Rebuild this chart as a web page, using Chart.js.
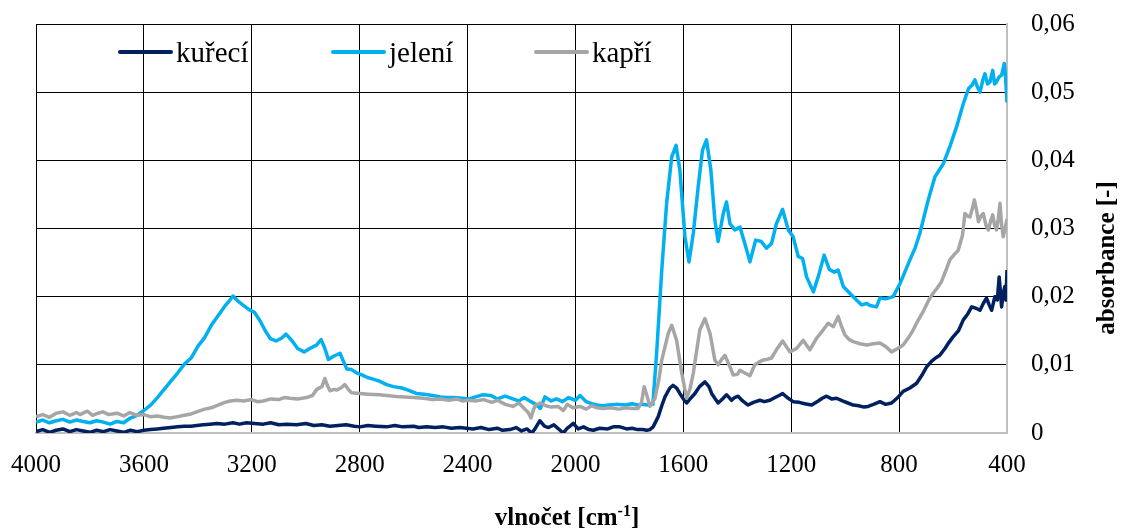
<!DOCTYPE html>
<html><head><meta charset="utf-8">
<script src="https://cdn.jsdelivr.net/npm/chart.js@4.4.1/dist/chart.umd.min.js"></script>
<style>html,body{margin:0;padding:0;background:#fff;}canvas{display:block;}</style>
</head><body>
<canvas id="c" width="1123" height="530"></canvas>
<script>
// ---- data ----
const xTickValues = [4000,3600,3200,2800,2400,2000,1600,1200,800,400];
const yTickValues = [0,0.01,0.02,0.03,0.04,0.05,0.06];
const seriesNames = ['kuřecí','jelení','kapří'];
const seriesColors = ['#002060','#00B0F0','#A6A6A6'];
const xTitle = 'vlnočet [cm';
const xTitleSup = '-1';
const xTitleEnd = ']';
const yTitle = 'absorbance [-]';

const wnKureci = [4000,3975,3950,3925,3900,3875,3850,3825,3800,3775,3750,3725,3700,3675,3650,3625,3600,3575,3550,3528,3500,3475,3450,3425,3404,3380,3355,3330,3300,3270,3245,3219,3190,3157,3130,3100,3070,3034,3000,2970,2940,2910,2880,2850,2820,2799,2770,2740,2700,2670,2640,2600,2580,2552,2520,2490,2460,2430,2404,2380,2350,2320,2290,2270,2243,2220,2200,2180,2162,2150,2132,2115,2100,2080,2057,2045,2030,2020,2008,1990,1970,1950,1934,1910,1880,1860,1835,1810,1790,1770,1750,1736,1724,1712,1693,1680,1668,1650,1638,1625,1613,1600,1588,1575,1557,1540,1520,1505,1495,1480,1471,1455,1440,1430,1421,1410,1397,1380,1360,1340,1316,1300,1279,1260,1245,1232,1215,1193,1170,1150,1124,1100,1085,1069,1050,1032,1010,990,970,950,930,915,895,871,850,828,805,785,760,735,715,698,680,665,649,630,615,600,580,562,545,531,515,500,488,476,466,457,445,436,429,420,414,408,404,400];
const absKureci = [.0002,.0005,.0001,.0004,.0006,.0002,.0005,.0003,.0001,.0004,.0002,.0005,.0003,.0001,.0004,.0002,.0004,.0005,.0006,.0007,.0008,.0009,.0010,.0010,.0011,.0012,.0013,.0014,.0013,.0015,.0013,.0015,.0014,.0013,.0015,.0012,.0013,.0012,.0014,.0011,.0012,.0010,.0011,.0012,.0010,.0009,.0011,.0010,.0009,.0011,.0009,.0010,.0008,.0009,.0008,.0009,.0007,.0008,.0007,.0006,.0008,.0005,.0007,.0004,.0005,.0008,.0003,.0006,.0000,.0006,.0018,.0010,.0008,.0012,.0004,.0000,.0007,.0010,.0014,.0006,.0009,.0005,.0004,.0007,.0006,.0009,.0009,.0006,.0007,.0005,.0005,.0004,.0005,.0009,.0024,.0040,.0053,.0066,.0070,.0066,.0058,.0050,.0044,.0050,.0058,.0068,.0075,.0068,.0058,.0049,.0044,.0050,.0056,.0052,.0048,.0052,.0054,.0047,.0041,.0045,.0048,.0046,.0048,.0052,.0055,.0058,.0052,.0046,.0045,.0043,.0041,.0047,.0051,.0054,.0050,.0051,.0047,.0044,.0041,.0040,.0038,.0039,.0042,.0046,.0042,.0044,.0052,.0061,.0066,.0073,.0085,.0097,.0105,.0110,.0114,.0124,.0133,.0141,.0150,.0166,.0175,.0185,.0183,.0180,.0190,.0198,.0188,.0180,.0200,.0195,.0229,.0185,.0205,.0215,.0195,.0239];

const wnJeleni = [4000,3975,3950,3925,3900,3875,3850,3825,3800,3775,3750,3725,3700,3675,3650,3625,3600,3575,3550,3525,3500,3475,3450,3425,3400,3375,3350,3325,3300,3285,3270,3250,3230,3210,3190,3170,3150,3130,3110,3090,3073,3050,3030,3006,2985,2960,2943,2930,2916,2895,2873,2860,2848,2830,2810,2790,2769,2750,2727,2700,2675,2644,2620,2590,2562,2530,2500,2480,2450,2420,2395,2370,2345,2313,2290,2260,2232,2210,2190,2165,2147,2130,2113,2090,2070,2048,2025,2000,1983,1960,1940,1920,1899,1875,1850,1816,1790,1770,1750,1730,1713,1699,1680,1662,1643,1627,1613,1594,1579,1563,1545,1529,1514,1498,1483,1471,1452,1440,1427,1409,1390,1372,1353,1332,1311,1292,1273,1255,1232,1211,1193,1174,1158,1143,1118,1100,1078,1059,1040,1026,1007,983,958,939,920,908,884,871,850,822,797,780,760,740,723,692,667,636,612,587,562,543,530,519,510,500,490,482,472,463,453,446,439,430,420,410,405,400];
const absJeleni = [.0016,.0019,.0015,.0018,.0020,.0016,.0019,.0017,.0015,.0018,.0016,.0013,.0017,.0015,.0022,.0026,.0033,.0041,.0052,.0064,.0076,.0088,.0101,.0110,.0127,.0140,.0158,.0172,.0186,.0193,.0201,.0193,.0187,.0181,.0177,.0165,.0150,.0138,.0135,.0139,.0145,.0135,.0124,.0119,.0124,.0129,.0137,.0125,.0108,.0113,.0117,.0105,.0094,.0093,.0088,.0085,.0081,.0079,.0076,.0071,.0068,.0066,.0063,.0058,.0057,.0055,.0053,.0052,.0052,.0051,.0050,.0053,.0056,.0055,.0050,.0054,.0050,.0047,.0052,.0046,.0042,.0036,.0053,.0047,.0050,.0046,.0052,.0048,.0055,.0046,.0043,.0041,.0040,.0041,.0042,.0041,.0043,.0041,.0042,.0041,.0042,.0117,.0239,.0337,.0405,.0422,.0386,.0288,.0251,.0293,.0361,.0415,.0430,.0386,.0312,.0281,.0322,.0339,.0307,.0298,.0302,.0278,.0251,.0283,.0281,.0271,.0278,.0307,.0328,.0298,.0288,.0259,.0256,.0229,.0207,.0229,.0261,.0240,.0236,.0239,.0215,.0205,.0195,.0188,.0190,.0187,.0185,.0198,.0197,.0200,.0219,.0235,.0254,.0272,.0293,.0342,.0376,.0395,.0420,.0449,.0483,.0505,.0510,.0518,.0508,.0500,.0517,.0527,.0512,.0515,.0532,.0512,.0515,.0522,.0525,.0542,.0520,.0485];

const wnKapri = [4000,3975,3950,3925,3900,3875,3850,3837,3810,3790,3770,3752,3730,3700,3675,3652,3625,3600,3577,3550,3525,3503,3475,3450,3425,3404,3375,3350,3330,3300,3280,3256,3230,3200,3180,3157,3130,3100,3080,3058,3030,2997,2975,2959,2940,2929,2920,2910,2895,2885,2870,2855,2840,2830,2800,2768,2727,2700,2650,2600,2562,2530,2500,2470,2440,2420,2395,2370,2340,2310,2290,2260,2232,2210,2190,2175,2165,2155,2147,2130,2110,2090,2065,2045,2030,2010,1983,1960,1940,1920,1899,1870,1840,1810,1790,1768,1755,1745,1735,1724,1705,1690,1680,1656,1643,1625,1606,1588,1575,1563,1539,1520,1501,1483,1471,1458,1446,1427,1415,1400,1390,1372,1353,1335,1320,1304,1290,1273,1255,1232,1205,1180,1156,1131,1106,1082,1063,1044,1026,1015,1001,985,970,945,920,895,871,850,828,805,785,765,748,730,711,690,674,660,643,625,612,595,581,565,556,545,537,528,521,512,506,497,488,478,469,460,453,446,439,432,426,420,414,407,401,400];
const absKapri = [.0024,.0027,.0023,.0029,.0031,.0026,.0030,.0027,.0032,.0026,.0029,.0031,.0027,.0029,.0025,.0030,.0026,.0027,.0024,.0025,.0023,.0022,.0024,.0026,.0028,.0031,.0035,.0037,.0040,.0045,.0047,.0048,.0047,.0049,.0046,.0047,.0050,.0049,.0052,.0051,.0050,.0052,.0055,.0064,.0068,.0080,.0070,.0062,.0064,.0063,.0066,.0071,.0063,.0059,.0058,.0057,.0056,.0055,.0053,.0052,.0051,.0049,.0050,.0048,.0050,.0047,.0048,.0047,.0049,.0045,.0048,.0042,.0039,.0044,.0036,.0030,.0022,.0035,.0041,.0044,.0040,.0038,.0039,.0033,.0042,.0037,.0039,.0035,.0040,.0037,.0036,.0037,.0035,.0037,.0036,.0036,.0045,.0068,.0055,.0039,.0051,.0080,.0107,.0146,.0158,.0136,.0088,.0051,.0065,.0088,.0151,.0168,.0146,.0107,.0100,.0108,.0114,.0097,.0085,.0086,.0092,.0088,.0084,.0100,.0104,.0107,.0108,.0110,.0122,.0135,.0119,.0124,.0136,.0122,.0139,.0151,.0161,.0156,.0171,.0158,.0144,.0137,.0134,.0131,.0129,.0131,.0132,.0127,.0119,.0124,.0129,.0140,.0151,.0165,.0178,.0195,.0205,.0212,.0222,.0240,.0254,.0262,.0268,.0290,.0322,.0318,.0317,.0330,.0342,.0325,.0310,.0318,.0322,.0305,.0298,.0312,.0320,.0305,.0298,.0315,.0337,.0305,.0288,.0300,.0312,.0305];

// ---- build ----
const FONT = "'Liberation Serif','Times New Roman',serif";
function pts(wn, ab){ return wn.map((w,i)=>({x:w, y:ab[i]})); }
const seriesData = [pts(wnKureci,absKureci), pts(wnJeleni,absJeleni), pts(wnKapri,absKapri)];
const drawOrder = [2,1,0];

const extras = {
  id:'extras',
  afterDraw(chart){
    const ctx = chart.ctx;
    ctx.save();
    // legend inside plot area
    const legendX = [118, 331, 534];
    const legendY = 52;
    ctx.font = '29px ' + FONT;
    ctx.textBaseline = 'alphabetic';
    ctx.textAlign = 'left';
    chart.data.datasets.forEach((ds,i)=>{
      const x0 = legendX[i];
      ctx.strokeStyle = ds.borderColor;
      ctx.lineWidth = 4;
      ctx.lineCap = 'round';
      ctx.beginPath(); ctx.moveTo(x0+2, legendY); ctx.lineTo(x0+53, legendY); ctx.stroke();
      ctx.fillStyle = '#000';
      ctx.fillText(ds.label, x0+58, legendY+10);
    });
    // x title with superscript
    ctx.fillStyle = '#000';
    ctx.font = 'bold 25px ' + FONT;
    const w1 = ctx.measureText(xTitle).width;
    ctx.font = 'bold 16px ' + FONT;
    const w2 = ctx.measureText(xTitleSup).width;
    ctx.font = 'bold 25px ' + FONT;
    const w3 = ctx.measureText(xTitleEnd).width;
    const total = w1+w2+w3;
    let tx = 567 - total/2;
    const ty = 525;
    ctx.fillText(xTitle, tx, ty); tx += w1;
    ctx.font = 'bold 16px ' + FONT;
    ctx.fillText(xTitleSup, tx, ty-9); tx += w2;
    ctx.font = 'bold 25px ' + FONT;
    ctx.fillText(xTitleEnd, tx, ty);
    // y title rotated
    ctx.translate(1114, 258);
    ctx.rotate(-Math.PI/2);
    ctx.textAlign = 'center';
    ctx.fillText(yTitle, 0, 0);
    ctx.restore();
  }
};

new Chart(document.getElementById('c'), {
  type:'line',
  data:{
    datasets: seriesNames.map((n,i)=>({
      label:n, data:seriesData[i], borderColor:seriesColors[i], backgroundColor:seriesColors[i],
      borderWidth:3.5, pointRadius:0, tension:0, borderJoinStyle:'round', fill:false, order:drawOrder[i]
    }))
  },
  options:{
    responsive:false, animation:false, devicePixelRatio:1,
    layout:{padding:{left:36, top:24, right:0, bottom:0}},
    plugins:{legend:{display:false}, tooltip:{enabled:false}},
    scales:{
      x:{
        type:'linear', reverse:true, min:400, max:4000, position:'bottom',
        afterBuildTicks: s => { s.ticks = xTickValues.map(v=>({value:v})); },
        afterFit: s => { s.height = 97; s.paddingLeft = 0; s.paddingRight = 0; s.paddingTop = 0; s.paddingBottom = 0; },
        grid:{color:'#000', lineWidth:1, drawTicks:false},
        border:{color:'#BFBFBF', width:2},
        ticks:{color:'#000', font:{family:FONT, size:25}, padding:17, maxRotation:0, autoSkip:false,
               callback: v => String(v)}
      },
      y:{
        type:'linear', position:'right', min:0, max:0.06,
        afterBuildTicks: s => { s.ticks = yTickValues.map(v=>({value:v})); },
        afterFit: s => { s.width = 116; s.paddingLeft = 0; s.paddingRight = 0; s.paddingTop = 0; s.paddingBottom = 0; },
        grid:{color:'#000', lineWidth:1, drawTicks:false},
        border:{color:'#BFBFBF', width:2},
        ticks:{color:'#000', font:{family:FONT, size:25}, padding:24,
               callback: v => v === 0 ? '0' : v.toFixed(2).replace('.', ',')}
      }
    }
  },
  plugins:[extras]
});
</script>
</body></html>
